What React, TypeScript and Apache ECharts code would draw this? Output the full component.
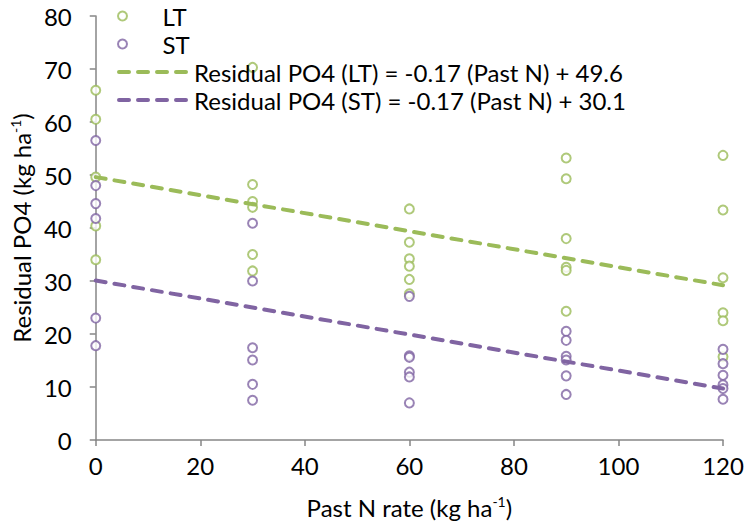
import React, { useEffect, useRef } from "react";
import * as echarts from "echarts";

const xRates = [0, 30, 60, 90, 120];
const ltValues: number[][] = [
  [66.0, 60.5, 49.6, 40.4, 34.0],
  [70.3, 48.2, 45.0, 43.9, 35.0, 31.9],
  [43.6, 37.3, 34.2, 32.8, 30.3, 27.6],
  [53.2, 49.3, 38.0, 32.6, 32.0, 24.3],
  [53.7, 43.4, 30.6, 24.0, 22.5, 15.7],
];
const stValues: number[][] = [
  [56.5, 48.0, 44.6, 41.8, 23.0, 17.8],
  [40.9, 30.0, 17.4, 15.1, 10.5, 7.5],
  [27.1, 15.9, 15.6, 12.8, 11.9, 7.0],
  [20.5, 18.8, 15.8, 15.1, 12.1, 8.6],
  [17.1, 14.4, 12.2, 10.4, 9.7, 7.7],
];
const trendLT = [
  [0, 49.6],
  [120, 29.2],
];
const trendST = [
  [0, 30.1],
  [120, 9.7],
];
const seriesNames = [
  "LT",
  "ST",
  "Residual PO4 (LT) = -0.17 (Past N) + 49.6",
  "Residual PO4 (ST) = -0.17 (Past N) + 30.1",
];
const xTicks = { min: 0, max: 120, interval: 20 };
const yTicks = { min: 0, max: 80, interval: 10 };

const GREEN = "#9BBB59";
const PURPLE = "#8064A2";
const FONT = "Lato";
const FS = 24;

function toPoints(values: number[][]) {
  const pts: number[][] = [];
  values.forEach((col, i) => col.forEach((v) => pts.push([xRates[i], v])));
  return pts;
}

export default function App() {
  const ref = useRef<HTMLDivElement>(null);
  useEffect(() => {
    if (!ref.current) return;
    const chart = echarts.init(ref.current, undefined, { renderer: "svg" });
    const axisLine = { lineStyle: { color: "#868686", width: 1.5 } };
    const labelStyle = { color: "#000", fontSize: FS, fontFamily: FONT };
    const rich = {
      n: { fontSize: FS, fontFamily: FONT, color: "#000" },
      s: { fontSize: 14, fontFamily: FONT, color: "#000", padding: [0, 0, 12, 0] },
    };
    chart.setOption({
      animation: false,
      backgroundColor: "#fff",
      grid: { left: 93, right: 28, top: 16, bottom: 85, containLabel: false },
      xAxis: {
        type: "value",
        min: xTicks.min,
        max: xTicks.max,
        interval: xTicks.interval,
        splitLine: { show: false },
        axisLine: { show: true, ...axisLine },
        axisTick: { show: true, length: 6, lineStyle: { color: "#868686", width: 1.5 } },
        axisLabel: { ...labelStyle, margin: 13 },
        name: "{n|Past N rate (kg ha}{s|-1}{n|)}",
        nameLocation: "middle",
        nameGap: 54,
        nameTextStyle: { rich },
      },
      yAxis: {
        type: "value",
        min: yTicks.min,
        max: yTicks.max,
        interval: yTicks.interval,
        splitLine: { show: false },
        axisLine: { show: true, ...axisLine },
        axisTick: { show: true, length: 6, lineStyle: { color: "#868686", width: 1.5 } },
        axisLabel: { ...labelStyle, margin: 24 },
        name: "{n|Residual PO4 (kg ha}{s|-1}{n|)}",
        nameLocation: "middle",
        nameGap: 52,
        nameTextStyle: { rich },
      },
      legend: [
        {
          data: [seriesNames[0], seriesNames[1]],
          orient: "vertical",
          left: 117,
          top: 2,
          itemWidth: 70,
          itemHeight: 9,
          itemGap: 0,
          textStyle: { ...labelStyle, lineHeight: 28 },
          padding: 0,
        },
        {
          data: [seriesNames[2], seriesNames[3]],
          orient: "vertical",
          left: 117,
          top: 58,
          itemWidth: 70,
          itemHeight: 14,
          itemGap: 0,
          textStyle: { ...labelStyle, lineHeight: 28 },
          lineStyle: { width: 4 },
          padding: 0,
        },
      ],
      series: [
        {
          name: seriesNames[0],
          type: "scatter",
          symbol: "emptyCircle",
          symbolSize: 9,
          itemStyle: { color: GREEN, borderColor: GREEN, borderWidth: 1.8 },
          data: toPoints(ltValues),
          z: 2,
        },
        {
          name: seriesNames[1],
          type: "scatter",
          symbol: "emptyCircle",
          symbolSize: 9,
          itemStyle: { color: PURPLE, borderColor: PURPLE, borderWidth: 1.8 },
          data: toPoints(stValues),
          z: 2,
        },
        {
          name: seriesNames[2],
          type: "line",
          symbol: "none",
          color: GREEN,
          itemStyle: { opacity: 0 },
          lineStyle: { color: GREEN, width: 4, type: [10, 9], cap: "round" },
          data: trendLT,
          z: 3,
        },
        {
          name: seriesNames[3],
          type: "line",
          symbol: "none",
          color: PURPLE,
          itemStyle: { opacity: 0 },
          lineStyle: { color: PURPLE, width: 4, type: [10, 9], cap: "round" },
          data: trendST,
          z: 3,
        },
      ],
    });
    return () => chart.dispose();
  }, []);
  return (
    <div
      ref={ref}
      style={{ position: "fixed", left: 0, top: 0, width: 751, height: 525 }}
    />
  );
}
